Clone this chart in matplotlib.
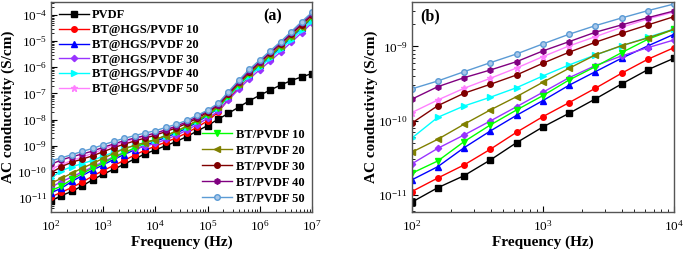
import numpy as np
import matplotlib
matplotlib.use("Agg")
import matplotlib.pyplot as plt
from matplotlib.ticker import LogLocator, NullFormatter

plt.rcParams['font.family'] = ['Liberation Serif', 'DejaVu Serif']
plt.rcParams['mathtext.fontset'] = 'custom'
plt.rcParams['mathtext.rm'] = 'Liberation Serif'

# frequency exponents, 5 points per decade
freq_exp = [2.0, 2.2, 2.4, 2.6, 2.8, 3.0, 3.2, 3.4, 3.6, 3.8, 4.0, 4.2, 4.4,
            4.6, 4.8, 5.0, 5.2, 5.4, 5.6, 5.8, 6.0, 6.2, 6.4, 6.6, 6.8, 7.0]

# log10 of AC conductivity (S/cm)
pvdf = [-11.105, -10.908, -10.746, -10.534, -10.30, -10.088, -9.903, -9.709, -9.507, -9.314,
        -9.159, -9.00, -8.84, -8.65, -8.44, -8.23, -7.99, -7.76, -7.52, -7.28,
        -7.07, -6.87, -6.68, -6.51, -6.37, -6.24]
hgs10 = [-10.962, -10.777, -10.601, -10.389, -10.159, -9.949, -9.759, -9.565, -9.362, -9.173,
         -9.016, -8.86, -8.70, -8.51, -8.29, -8.05, -7.72, -7.22, -6.76, -6.34,
         -5.96, -5.59, -5.21, -4.81, -4.42, -4.03]
hgs20 = [-10.804, -10.624, -10.368, -10.142, -9.930, -9.732, -9.524, -9.341, -9.159, -8.993,
         -8.835, -8.68, -8.52, -8.33, -8.10, -7.85, -7.58, -7.12, -6.69, -6.29,
         -5.93, -5.59, -5.24, -4.87, -4.50, -4.13]
hgs30 = [-10.588, -10.376, -10.196, -10.007, -9.814, -9.619, -9.422, -9.259, -9.128, -9.016,
         -8.912, -8.76, -8.60, -8.41, -8.19, -7.95, -7.69, -7.25, -6.83, -6.44,
         -6.09, -5.76, -5.41, -5.05, -4.68, -4.30]
hgs40 = [-10.241, -9.957, -9.804, -9.686, -9.557, -9.399, -9.25, -9.115, -8.993, -8.876,
         -8.764, -8.62, -8.46, -8.27, -8.05, -7.80, -7.55, -7.12, -6.71, -6.33,
         -5.99, -5.66, -5.31, -4.95, -4.59, -4.22]
hgs50 = [-9.895, -9.723, -9.565, -9.43, -9.291, -9.138, -8.993, -8.868, -8.741, -8.628,
         -8.534, -8.41, -8.28, -8.12, -7.93, -7.72, -7.47, -7.03, -6.60, -6.20,
         -5.85, -5.51, -5.16, -4.79, -4.42, -4.05]
bt10 = [-10.714, -10.547, -10.286, -10.061, -9.858, -9.665, -9.453, -9.273, -9.084, -8.903,
        -8.768, -8.62, -8.46, -8.28, -8.06, -7.82, -7.55, -7.09, -6.66, -6.26,
        -5.90, -5.56, -5.21, -4.84, -4.47, -4.10]
bt20 = [-10.43, -10.254, -10.051, -9.858, -9.678, -9.484, -9.295, -9.115, -8.989, -8.885,
        -8.768, -8.61, -8.44, -8.25, -8.03, -7.78, -7.51, -7.06, -6.63, -6.23,
        -5.88, -5.54, -5.19, -4.82, -4.45, -4.08]
bt30 = [-10.038, -9.8, -9.632, -9.511, -9.385, -9.227, -9.078, -8.943, -8.822, -8.709,
        -8.597, -8.46, -8.32, -8.15, -7.95, -7.72, -7.46, -7.01, -6.58, -6.17,
        -5.81, -5.46, -5.11, -4.74, -4.37, -4.00]
bt40 = [-9.714, -9.543, -9.422, -9.318, -9.205, -9.061, -8.935, -8.808, -8.709, -8.611,
        -8.52, -8.39, -8.25, -8.09, -7.89, -7.68, -7.43, -6.98, -6.55, -6.14,
        -5.78, -5.43, -5.08, -4.70, -4.32, -3.96]
bt50 = [-9.574, -9.466, -9.341, -9.219, -9.101, -8.966, -8.835, -8.719, -8.615, -8.516,
        -8.426, -8.30, -8.18, -8.03, -7.84, -7.64, -7.38, -6.93, -6.49, -6.08,
        -5.72, -5.37, -5.02, -4.64, -4.26, -3.90]

labels = ["PVDF", "BT@HGS/PVDF 10", "BT@HGS/PVDF 20", "BT@HGS/PVDF 30",
          "BT@HGS/PVDF 40", "BT@HGS/PVDF 50", "BT/PVDF 10", "BT/PVDF 20",
          "BT/PVDF 30", "BT/PVDF 40", "BT/PVDF 50"]
series = [pvdf, hgs10, hgs20, hgs30, hgs40, hgs50, bt10, bt20, bt30, bt40, bt50]

styles = [
    dict(color="black", marker="s"),
    dict(color="#ff0000", marker="o"),
    dict(color="#0000ff", marker="^"),
    dict(color="#9933ff", marker="D", ms=3.2),
    dict(color="#00ffff", marker=">"),
    dict(color="#ff80ff", marker="*", ms=5),
    dict(color="#00ff00", marker="v"),
    dict(color="#808000", marker="<"),
    dict(color="#800000", marker="o"),
    dict(color="#800080", marker="h"),
    dict(color="#5b9bd5", marker="o", mfc="#a9c8ea"),
]

freq = 10 ** np.array(freq_exp)

fig = plt.figure(figsize=(6.85, 2.6), dpi=100)
ax1 = fig.add_axes([51 / 685, 48 / 260, 261 / 685, 210 / 260])
ax2 = fig.add_axes([411.5 / 685, 48 / 260, 262.5 / 685, 210 / 260])

lines = []
for vals, lab, st in zip(series, labels, styles):
    st = dict(st)
    ms = st.pop("ms", 4)
    y = 10 ** np.array(vals)
    l, = ax1.plot(freq, y, lw=1, ms=ms, mec=st["color"], label=lab, **st)
    lines.append(l)
    ax2.plot(freq[:11], y[:11], lw=1, ms=ms, mec=st["color"], **st)

for ax in (ax1, ax2):
    ax.set_xscale("log")
    ax.set_yscale("log")
    ax.yaxis.set_major_locator(LogLocator(base=10, numticks=20))
    ax.yaxis.set_minor_locator(LogLocator(base=10, subs=np.arange(2, 10), numticks=20))
    ax.yaxis.set_minor_formatter(NullFormatter())
    ax.xaxis.set_minor_formatter(NullFormatter())
    ax.tick_params(which="both", direction="in", labelsize=9.5, pad=3)
    ax.tick_params(axis="x", pad=5)
    ax.tick_params(which="major", length=4)
    ax.tick_params(which="minor", length=2)
    for sp in ax.spines.values():
        sp.set_color("#555555")
        sp.set_linewidth(1)
    ax.set_xlabel("Frequency (Hz)", fontsize=11, fontweight="bold", labelpad=1.5)
    ax.set_ylabel("AC conductivity (S/cm)", fontsize=11, fontweight="bold")

ax1.yaxis.set_label_coords(-36 / 261, 0.5)
ax2.yaxis.set_label_coords(-34 / 262.5, 0.5)

ax1.set_xlim(1e2, 1e7)
ax1.set_ylim(10 ** -11.536, 10 ** -3.503)
ax2.set_xlim(1e2, 1e4)
ax2.set_ylim(10 ** -11.236, 10 ** -8.399)

ax1.text(0.85, 0.93, "(a)", transform=ax1.transAxes, fontsize=11.5, fontweight="bold",
         ha="center", va="center")
ax2.text(0.07, 0.93, "(b)", transform=ax2.transAxes, fontsize=11.5, fontweight="bold",
         ha="center", va="center")

leg1 = ax1.legend(handles=lines[:6], loc="upper left", frameon=False,
                  prop=dict(size=9, weight="bold"), handlelength=2.4,
                  labelspacing=0.22, borderaxespad=0.2, handletextpad=0.3)
ax1.add_artist(leg1)
ax1.legend(handles=lines[6:], loc="lower right", frameon=False,
           prop=dict(size=9, weight="bold"), handlelength=2.4,
           labelspacing=0.32, borderaxespad=0.2, handletextpad=0.3)

fig.savefig("out.png", dpi=100)
